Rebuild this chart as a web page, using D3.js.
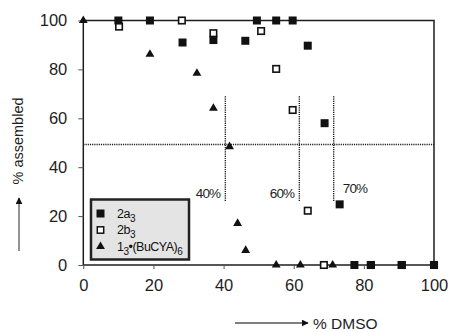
<!DOCTYPE html>
<html>
<head>
<meta charset="utf-8">
<script src="https://cdn.jsdelivr.net/npm/d3@7"></script>
<style>
  body { margin: 0; background: #fff; }
  svg { display: block; font-family: "Liberation Sans", Arial, Helvetica, sans-serif; }
</style>
</head>
<body>
<div class="chart"></div>
<script>
// % DMSO vs % assembled, three assemblies
const seriesA = [ // 2a3, filled squares
  [10, 100], [19, 100], [28.3, 91], [37.1, 92], [46.2, 91.7], [49.5, 100], [55, 100],
  [59.7, 100], [64, 89.7], [68.8, 58], [73.1, 24.8], [77.3, 0], [82, 0], [90.8, 0], [100, 0]
];
const seriesB = [ // 2b3, open squares
  [10.2, 97.5], [28.1, 100], [37.1, 94.8], [50.7, 95.7], [55, 80.2], [59.7, 63.4],
  [64, 22.2], [68.6, 0], [82, 0], [90.8, 0], [100, 0]
];
const seriesC = [ // 1_3*(BuCYA)_6, triangles
  [0, 100], [19, 86.2], [32.4, 78.4], [37.1, 64.1], [41.7, 48.4], [44, 17],
  [46.3, 6], [55, 0], [61.9, 0], [71.1, 0]
];
const xTicks = [0, 20, 40, 60, 80, 100];
const yTicks = [0, 20, 40, 60, 80, 100];
const halfLine = 49.3;
const markers = [ // vertical dotted markers: x value, label
  {x: 40.5, label: '40%'}, {x: 61.6, label: '60%'}, {x: 71.4, label: '70%'}
];
const markerSpan = [26, 69];

const margin = {top: 20.5, right: 17, bottom: 67, left: 83.3};
const W = 451, H = 332;
const width = W - margin.left - margin.right;
const height = H - margin.top - margin.bottom;

const svg = d3.select('.chart').append('svg')
  .attr('width', W).attr('height', H);
const g = svg.append('g')
  .attr('transform', `translate(${margin.left},${margin.top})`);

const x = d3.scaleLinear().domain([0, 100]).range([0, width]);
const y = d3.scaleLinear().domain([0, 100]).range([height, 0]);

const ink = '#1e1e1e';

// frame (top + right)
g.append('path')
  .attr('d', `M0,${y(100)}H${x(100)}V${y(0)}`)
  .attr('fill', 'none').attr('stroke', ink).attr('stroke-width', 1.5);

// dotted guides
g.append('line')
  .attr('x1', x(0)).attr('x2', x(100))
  .attr('y1', y(halfLine)).attr('y2', y(halfLine))
  .attr('stroke', ink).attr('stroke-width', 1.4).attr('stroke-dasharray', '1.2,1');
g.selectAll('.vmark').data(markers).enter().append('line')
  .attr('class', 'vmark')
  .attr('x1', d => x(d.x)).attr('x2', d => x(d.x))
  .attr('y1', y(markerSpan[1])).attr('y2', y(markerSpan[0]))
  .attr('stroke', ink).attr('stroke-width', 1.4).attr('stroke-dasharray', '1.2,1');
g.selectAll('.vlabel').data(markers).enter().append('text')
  .attr('class', 'vlabel')
  .attr('x', (d, i) => i === 2 ? x(d.x) + 9 : x(d.x) - 5)
  .attr('y', (d, i) => i === 2 ? y(markerSpan[0]) - 8 : y(markerSpan[0]) - 3)
  .attr('text-anchor', (d, i) => i === 2 ? 'start' : 'end')
  .attr('font-size', 13.5).attr('letter-spacing', -0.8).attr('fill', ink)
  .text(d => d.label);

// axes
const xAxis = g.append('g')
  .attr('transform', `translate(0,${height})`)
  .call(d3.axisBottom(x).tickValues(xTicks).tickSize(4).tickPadding(10));
const yAxis = g.append('g')
  .call(d3.axisLeft(y).tickValues(yTicks).tickSize(5).tickPadding(11));
[xAxis, yAxis].forEach(a => {
  a.select('.domain').attr('stroke', ink).attr('stroke-width', 1.5);
  a.selectAll('.tick line').attr('stroke', '#555').attr('stroke-width', 1);
  a.selectAll('.tick text').attr('fill', ink)
    .attr('font-size', 16.5).attr('font-family', '"Liberation Sans", Arial, sans-serif');
});
xAxis.select('.domain').attr('d', `M0,0H${width}`);
yAxis.select('.domain').attr('d', `M0,${height}V0`);

// points
const sqA = 8, sqB = 6.5;
g.selectAll('.sb').data(seriesB).enter().append('rect')
  .attr('class', 'sb')
  .attr('x', d => x(d[0]) - sqB / 2).attr('y', d => y(d[1]) - sqB / 2)
  .attr('width', sqB).attr('height', sqB)
  .attr('fill', '#fff').attr('stroke', '#111').attr('stroke-width', 1.6);
g.selectAll('.sa').data(seriesA).enter().append('rect')
  .attr('class', 'sa')
  .attr('x', d => x(d[0]) - sqA / 2).attr('y', d => y(d[1]) - sqA / 2)
  .attr('width', sqA).attr('height', sqA)
  .attr('fill', '#111');
const tri = d3.symbol().type(d3.symbolTriangle).size(34);
g.selectAll('.sc').data(seriesC).enter().append('path')
  .attr('class', 'sc')
  .attr('transform', d => `translate(${x(d[0])},${y(d[1])})`)
  .attr('d', tri).attr('fill', '#111');

// legend
const lg = svg.append('g').attr('transform', 'translate(91,199.5)');
lg.append('rect').attr('width', 98).attr('height', 60)
  .attr('fill', '#e4e4e4').attr('stroke', '#222').attr('stroke-width', 2.5);
const lx = 9.5, ly = [14, 30.5, 47];
lg.append('rect').attr('x', lx - 4).attr('y', ly[0] - 4).attr('width', 8).attr('height', 8).attr('fill', '#111');
lg.append('rect').attr('x', lx - 3.2).attr('y', ly[1] - 3.2).attr('width', 6.4).attr('height', 6.4)
  .attr('fill', '#fff').attr('stroke', '#111').attr('stroke-width', 1.5);
lg.append('path').attr('transform', `translate(${lx},${ly[2]})`).attr('d', tri).attr('fill', '#111');
const lt = lg.selectAll('.lt').data([
  [['2a', 0], ['3', 1]],
  [['2b', 0], ['3', 1]],
  [['1', 0], ['3', 1], ['•(BuCYA)', 0], ['6', 1]]
]).enter().append('text')
  .attr('class', 'lt')
  .attr('x', 26).attr('y', (d, i) => ly[i] + 4)
  .attr('font-size', 12.5).attr('fill', '#111').attr('letter-spacing', -0.5);
lt.selectAll('tspan').data(d => d).enter().append('tspan')
  .attr('dy', (d, i, n) => {
    const prev = i > 0 ? n[i - 1].__data__[1] : 0;
    return (d[1] - prev) * 4;
  })
  .attr('font-size', d => d[1] ? 10 : 12.5)
  .text(d => d[0]);

// axis titles with arrows
const defs = svg.append('defs');
defs.append('marker').attr('id', 'ah')
  .attr('viewBox', '0 0 10 10').attr('refX', 9).attr('refY', 5)
  .attr('markerWidth', 7).attr('markerHeight', 7).attr('orient', 'auto')
  .attr('markerUnits', 'userSpaceOnUse')
  .append('path').attr('d', 'M0,0L10,5L0,10Z').attr('fill', '#111');

svg.append('text')
  .attr('transform', 'translate(23,141) rotate(-90)')
  .attr('text-anchor', 'middle').attr('font-size', 14.5).attr('fill', ink)
  .text('% assembled');
svg.append('line')
  .attr('x1', 19).attr('y1', 251).attr('x2', 19).attr('y2', 198)
  .attr('stroke', '#777').attr('stroke-width', 1.6).attr('marker-end', 'url(#ah)');

svg.append('text')
  .attr('x', 313).attr('y', 328.5)
  .attr('font-size', 15.5).attr('fill', ink)
  .text('% DMSO');
svg.append('line')
  .attr('x1', 235).attr('y1', 323).attr('x2', 308).attr('y2', 323)
  .attr('stroke', '#555').attr('stroke-width', 1.4).attr('marker-end', 'url(#ah)');
</script>
</body>
</html>
